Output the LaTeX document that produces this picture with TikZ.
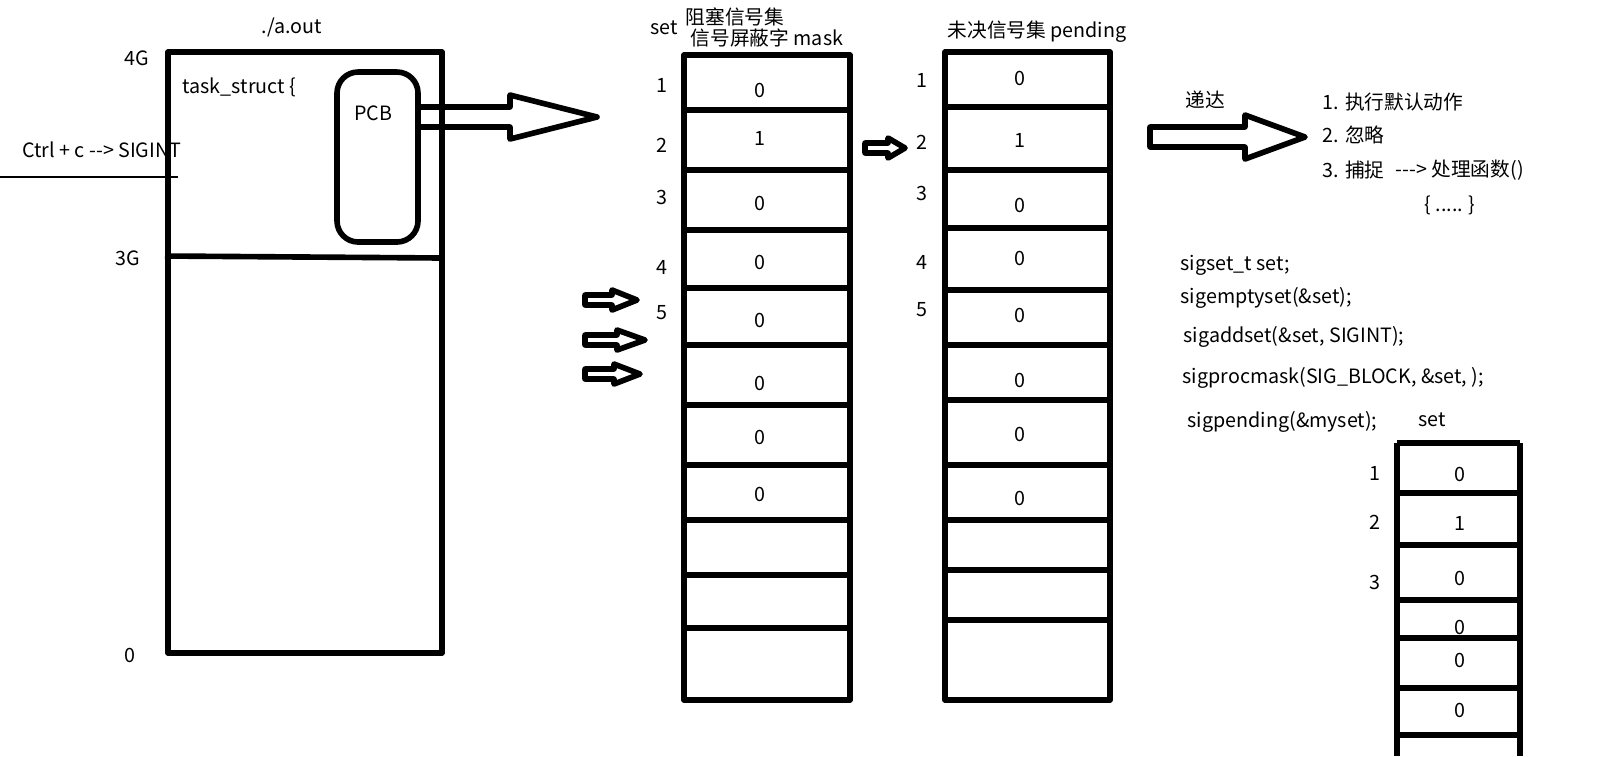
\documentclass[tikz,border=0pt]{standalone}
\usepackage{fontspec}
\setmainfont{Noto Sans CJK SC}
\newcommand{\hollowarrow}[6]{% x1, x2 (head start), x3 (tip), y, half shaft, half head
  \draw[thick line] (#1,#4-#5) -- (#2,#4-#5) -- (#2,#4-#6) -- (#3,#4)
    -- (#2,#4+#6) -- (#2,#4+#5) -- (#1,#4+#5) -- cycle;}
\tikzset{
  thick line/.style={line width=1.6pt, line join=round},
  lbl/.style={font=\fontsize{5.6}{6.5}\selectfont, inner sep=0pt},
  cell/.style={lbl}
}
\begin{document}
\begin{tikzpicture}[x=0.01cm, y=-0.01cm]
\useasboundingbox (0,0) rectangle (1613,756);
% process address space
\draw[thick line] (168,52) rectangle (442,653);
\draw[thick line] (165,256) -- (444,258);
\draw[thick line, rounded corners=6pt] (337,72) rectangle (418,242);
\node[lbl] (aout) at (292,27) {./a.out};
\node[lbl] (g4) at (137,58) {4G};
\node[lbl] (g3) at (128,258) {3G};
\node[lbl] (g0) at (130,655) {0};
\node[lbl, anchor=west] (task) at (182,87) {task\_struct \{};
\node[lbl] (pcb) at (373,113) {PCB};
\node[lbl, anchor=east] (ctrl) at (182,150) {Ctrl + c {-}{-}> SIGINT};
\draw[line width=0.5pt] (0,177) -- (178,177);
\hollowarrow{418}{510}{597}{117}{10}{22}
% mask column
\node[lbl] (setm) at (664,28) {set};
\node[lbl] (zuse) at (735,17) {阻塞信号集};
\node[lbl] (mask) at (767,38) {信号屏蔽字 mask};
\draw[thick line] (684,55) rectangle (850,700);
\foreach \y in {110,170,230,288,345,405,465,520,575,628}
  \draw[thick line] (684,\y) -- (850,\y);
\foreach \v/\y [count=\i] in {0/90,1/138,0/203,0/262,0/320,0/383,0/437,0/494}
  \node[cell] (m\i) at (760,\y) {\v};
\foreach \y [count=\i] in {85,145,197,267,313}
  \node[lbl] (mn\i) at (662,\y) {\i};
\hollowarrow{585}{612}{637}{300}{5}{10}
\hollowarrow{585}{617}{645}{340}{5}{10}
\hollowarrow{585}{614}{640}{374}{5}{10}
\hollowarrow{865}{888}{905}{148}{5}{10}
% pending column
\node[lbl] (pend) at (1037,32) {未决信号集 pending};
\draw[thick line] (945,52) rectangle (1110,700);
\foreach \y in {107,170,228,290,345,400,465,520,570,620}
  \draw[thick line] (945,\y) -- (1110,\y);
\foreach \v/\y [count=\i] in {0/78,1/140,0/205,0/258,0/315,0/380,0/434,0/498}
  \node[cell] (p\i) at (1020,\y) {\v};
\foreach \y [count=\i] in {80,142,193,262,310}
  \node[lbl] (pn\i) at (922,\y) {\i};
% delivery
\hollowarrow{1150}{1245}{1305}{137}{10}{22}
\node[lbl] (dida) at (1205,100) {递达};
\node[lbl, anchor=west] (act1) at (1322,102) {1. 执行默认动作};
\node[lbl, anchor=west] (act2) at (1322,135) {2. 忽略};
\node[lbl, anchor=west] (act3) at (1322,170) {3. 捕捉};
\node[lbl, anchor=west] (handler) at (1395,170) {{-}{-}{-}> 处理函数()};
\node[lbl] (body) at (1450,205) {\{ ..... \}};
% code
\node[lbl, anchor=west] (c1) at (1180,265) {sigset\_t set;};
\node[lbl, anchor=west] (c2) at (1180,298) {sigemptyset(\&set);};
\node[lbl, anchor=west] (c3) at (1183,337) {sigaddset(\&set, SIGINT);};
\node[lbl, anchor=west] (c4) at (1182,378) {sigprocmask(SIG\_BLOCK, \&set, );};
\node[lbl, anchor=west] (c5) at (1187,422) {sigpending(\&myset);};
% small set
\node[lbl] (sets) at (1432,420) {set};
\draw[thick line] (1397,443) -- (1397,756) (1520,443) -- (1520,756) (1397,443) -- (1520,443);
\foreach \y in {493,545,600,638,688,735}
  \draw[thick line] (1397,\y) -- (1520,\y);
\foreach \v/\y [count=\i] in {0/474,1/523,0/578,0/627,0/660,0/710}
  \node[cell] (s\i) at (1460,\y) {\v};
\foreach \y [count=\i] in {473,522,582}
  \node[lbl] (sn\i) at (1375,\y) {\i};
\end{tikzpicture}
\end{document}
